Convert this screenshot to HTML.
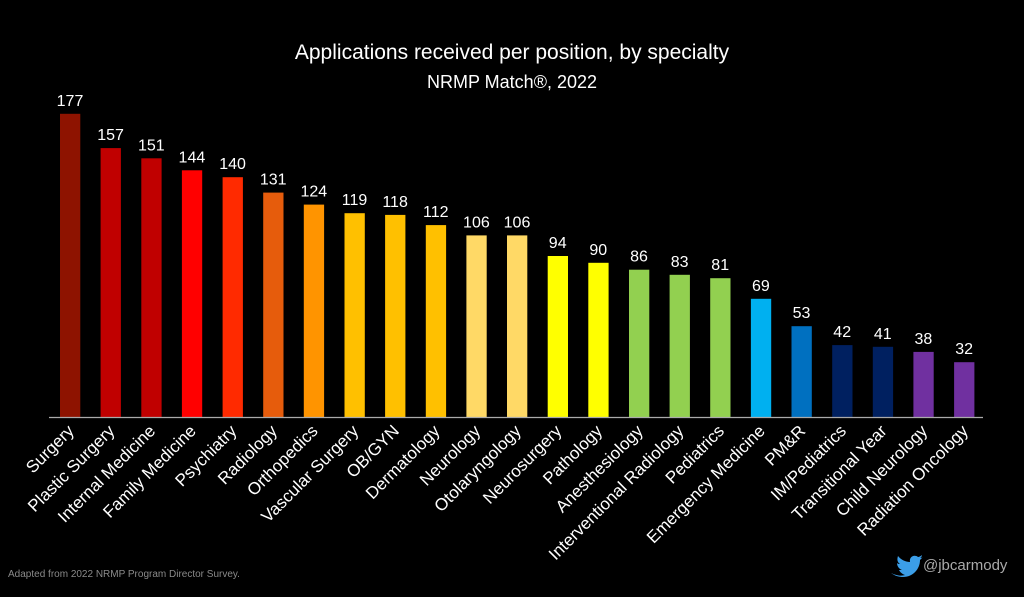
<!DOCTYPE html>
<html><head><meta charset="utf-8"><style>
html,body{margin:0;padding:0;background:#000;}
svg{display:block;}
text{font-family:"Liberation Sans",sans-serif;}
.v{fill:#fff;font-size:16px;text-anchor:middle;}
.l{fill:#fff;font-size:17px;text-anchor:end;}
</style></head><body>
<svg width="1024" height="597" viewBox="0 0 1024 597" xmlns="http://www.w3.org/2000/svg">
<rect width="1024" height="597" fill="#000"/>
<text x="512" y="59" fill="#fff" font-size="21" text-anchor="middle">Applications received per position, by specialty</text>
<text x="512" y="88" fill="#fff" font-size="18" text-anchor="middle">NRMP Match®, 2022</text>

<rect x="60" y="113.8" width="20.3" height="303.2" fill="#8e1300"/>
<rect x="100.6" y="148.1" width="20.3" height="268.9" fill="#c00000"/>
<rect x="141.3" y="158.3" width="20.3" height="258.7" fill="#c00000"/>
<rect x="181.9" y="170.3" width="20.3" height="246.7" fill="#ff0000"/>
<rect x="222.6" y="177.2" width="20.3" height="239.8" fill="#ff2a00"/>
<rect x="263.2" y="192.6" width="20.3" height="224.4" fill="#e65c0c"/>
<rect x="303.8" y="204.6" width="20.3" height="212.4" fill="#ff9400"/>
<rect x="344.5" y="213.2" width="20.3" height="203.8" fill="#ffc000"/>
<rect x="385.1" y="214.9" width="20.3" height="202.1" fill="#ffc000"/>
<rect x="425.8" y="225.1" width="20.3" height="191.9" fill="#ffc000"/>
<rect x="466.4" y="235.4" width="20.3" height="181.6" fill="#ffd966"/>
<rect x="507.0" y="235.4" width="20.3" height="181.6" fill="#ffd966"/>
<rect x="547.7" y="256.0" width="20.3" height="161.0" fill="#ffff00"/>
<rect x="588.3" y="262.8" width="20.3" height="154.2" fill="#ffff00"/>
<rect x="629.0" y="269.7" width="20.3" height="147.3" fill="#92d050"/>
<rect x="669.6" y="274.8" width="20.3" height="142.2" fill="#92d050"/>
<rect x="710.2" y="278.2" width="20.3" height="138.8" fill="#92d050"/>
<rect x="750.9" y="298.8" width="20.3" height="118.2" fill="#00b0f0"/>
<rect x="791.5" y="326.2" width="20.3" height="90.8" fill="#0070c0"/>
<rect x="832.2" y="345.1" width="20.3" height="71.9" fill="#002060"/>
<rect x="872.8" y="346.8" width="20.3" height="70.2" fill="#002060"/>
<rect x="913.4" y="351.9" width="20.3" height="65.1" fill="#7030a0"/>
<rect x="954.1" y="362.2" width="20.3" height="54.8" fill="#7030a0"/>

<line x1="49" y1="417.5" x2="983" y2="417.5" stroke="#aaa" stroke-width="1.2"/>

<text class="v" x="70" y="105.8">177</text>
<text class="v" x="110.6" y="140.1">157</text>
<text class="v" x="151.3" y="150.3">151</text>
<text class="v" x="191.9" y="162.3">144</text>
<text class="v" x="232.6" y="169.2">140</text>
<text class="v" x="273.2" y="184.6">131</text>
<text class="v" x="313.8" y="196.6">124</text>
<text class="v" x="354.5" y="205.2">119</text>
<text class="v" x="395.1" y="206.9">118</text>
<text class="v" x="435.8" y="217.1">112</text>
<text class="v" x="476.4" y="227.4">106</text>
<text class="v" x="517.0" y="227.4">106</text>
<text class="v" x="557.7" y="248.0">94</text>
<text class="v" x="598.3" y="254.8">90</text>
<text class="v" x="639.0" y="261.7">86</text>
<text class="v" x="679.6" y="266.8">83</text>
<text class="v" x="720.2" y="270.2">81</text>
<text class="v" x="760.9" y="290.8">69</text>
<text class="v" x="801.5" y="318.2">53</text>
<text class="v" x="842.2" y="337.1">42</text>
<text class="v" x="882.8" y="338.8">41</text>
<text class="v" x="923.4" y="343.9">38</text>
<text class="v" x="964.1" y="354.2">32</text>

<text class="l" x="75" y="432" transform="rotate(-45 75 432)">Surgery</text>
<text class="l" x="115.6" y="432" transform="rotate(-45 115.6 432)">Plastic Surgery</text>
<text class="l" x="156.3" y="432" transform="rotate(-45 156.3 432)">Internal Medicine</text>
<text class="l" x="196.9" y="432" transform="rotate(-45 196.9 432)">Family Medicine</text>
<text class="l" x="237.6" y="432" transform="rotate(-45 237.6 432)">Psychiatry</text>
<text class="l" x="278.2" y="432" transform="rotate(-45 278.2 432)">Radiology</text>
<text class="l" x="318.8" y="432" transform="rotate(-45 318.8 432)">Orthopedics</text>
<text class="l" x="359.5" y="432" transform="rotate(-45 359.5 432)">Vascular Surgery</text>
<text class="l" x="400.1" y="432" transform="rotate(-45 400.1 432)">OB/GYN</text>
<text class="l" x="440.8" y="432" transform="rotate(-45 440.8 432)">Dermatology</text>
<text class="l" x="481.4" y="432" transform="rotate(-45 481.4 432)">Neurology</text>
<text class="l" x="522.0" y="432" transform="rotate(-45 522.0 432)">Otolaryngology</text>
<text class="l" x="562.7" y="432" transform="rotate(-45 562.7 432)">Neurosurgery</text>
<text class="l" x="603.3" y="432" transform="rotate(-45 603.3 432)">Pathology</text>
<text class="l" x="644.0" y="432" transform="rotate(-45 644.0 432)">Anesthesiology</text>
<text class="l" x="684.6" y="432" transform="rotate(-45 684.6 432)">Interventional Radiology</text>
<text class="l" x="725.2" y="432" transform="rotate(-45 725.2 432)">Pediatrics</text>
<text class="l" x="765.9" y="432" transform="rotate(-45 765.9 432)">Emergency Medicine</text>
<text class="l" x="806.5" y="432" transform="rotate(-45 806.5 432)">PM&amp;R</text>
<text class="l" x="847.2" y="432" transform="rotate(-45 847.2 432)">IM/Pediatrics</text>
<text class="l" x="887.8" y="432" transform="rotate(-45 887.8 432)">Transitional Year</text>
<text class="l" x="928.4" y="432" transform="rotate(-45 928.4 432)">Child Neurology</text>
<text class="l" x="969.1" y="432" transform="rotate(-45 969.1 432)">Radiation Oncology</text>

<text x="8" y="577" fill="#8a8a8a" font-size="10">Adapted from 2022 NRMP Program Director Survey.</text>
<path d="M891 573 c6 3 11 3 14 2 c-3 -1 -5 -3 -6 -5 c1 0 2 0 3 0 c-3 -1 -5 -4 -5 -7 c1 1 2 1 3 1 c-3 -2 -3 -5 -2 -8 c3 4 8 6 12 6 c-1 -5 4 -8 8 -5 c1 0 3 -1 4 -2 c0 1 -1 3 -2 3 c1 0 2 0 3 -1 c-1 1 -2 2 -3 3 c0 9 -7 17 -17 17 c-4 0 -8 -1 -12 -4z" fill="#3b9ee8"/>
<text x="923" y="570" fill="#aaa" font-size="15">@jbcarmody</text>
</svg>
</body></html>
